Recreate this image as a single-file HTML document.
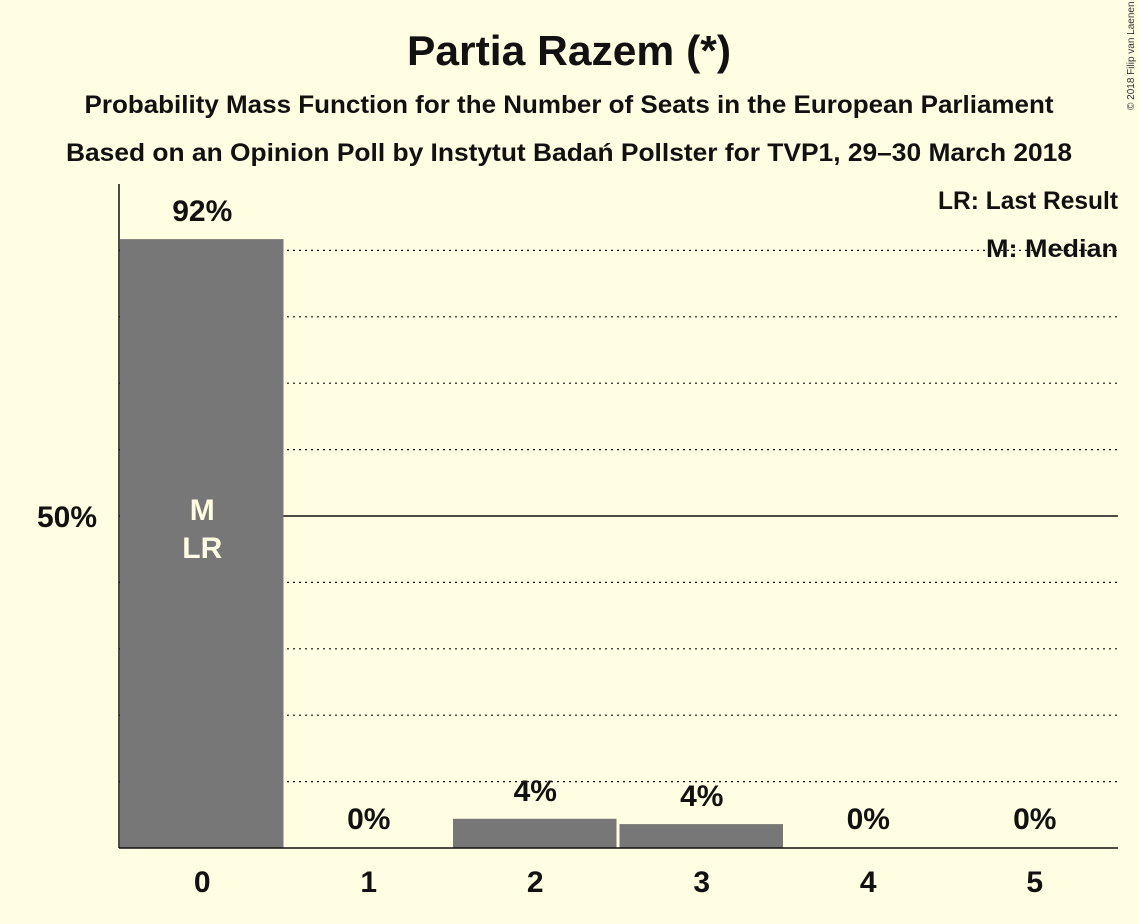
<!DOCTYPE html>
<html><head><meta charset="utf-8"><style>
body{margin:0;background:#FFFDE2;}
svg{display:block;font-family:"Liberation Sans",sans-serif;}
</style></head><body>
<svg id="chart" width="1139" height="924">
<rect width="1139" height="924" fill="#FFFDE2"/>
<text x="569" y="65" text-anchor="middle" font-size="42" font-weight="bold" fill="#111" textLength="324" lengthAdjust="spacingAndGlyphs">Partia Razem (*)</text>
<text x="569" y="113" text-anchor="middle" font-size="25" font-weight="bold" fill="#111" textLength="969" lengthAdjust="spacingAndGlyphs">Probability Mass Function for the Number of Seats in the European Parliament</text>
<text x="569" y="161" text-anchor="middle" font-size="25" font-weight="bold" fill="#111" textLength="1006" lengthAdjust="spacingAndGlyphs">Based on an Opinion Poll by Instytut Badań Pollster for TVP1, 29–30 March 2018</text>
<text transform="translate(1134,110) rotate(-90)" font-size="10" fill="#333">© 2018 Filip van Laenen</text>
<g id="grid"></g>
<g id="bars"></g>
<line x1="119" y1="184" x2="119" y2="848" stroke="#111" stroke-width="1.5"/>
<line x1="119" y1="848" x2="1118" y2="848" stroke="#111" stroke-width="1.5"/>
<text x="97" y="527" text-anchor="end" font-size="30" font-weight="bold" fill="#111">50%</text>
<text x="1118" y="209" text-anchor="end" font-size="25" font-weight="bold" fill="#111" textLength="180" lengthAdjust="spacingAndGlyphs">LR: Last Result</text>
<text x="1118" y="257" text-anchor="end" font-size="25" font-weight="bold" fill="#111" textLength="132" lengthAdjust="spacingAndGlyphs">M: Median</text>
</svg>
<script>
const categories=[0,1,2,3,4,5];
const values=[91.7,0,4.4,3.6,0,0];
const labels=["92%","0%","4%","4%","0%","0%"];
const medianIndex=0;
const lastResultIndex=0;
const ns="http://www.w3.org/2000/svg";
const x0=119,slot=166.5,yb=848,y50=516;
const yS=v=>yb-(yb-y50)*v/50;
const xS=i=>x0+slot*i;
const grid=document.getElementById('grid'),bars=document.getElementById('bars');
for(let p=10;p<=90;p+=10){
 const l=document.createElementNS(ns,'line');
 l.setAttribute('x1',x0);l.setAttribute('x2',1118);
 l.setAttribute('y1',yS(p));l.setAttribute('y2',yS(p));
 l.setAttribute('stroke','#111');
 if(p===50){l.setAttribute('stroke-width','1.5');}else{l.setAttribute('stroke-width','1.2');l.setAttribute('stroke-dasharray','2,4');}
 
 
 grid.appendChild(l);
}
categories.forEach((c,i)=>{
 const v=values[i];
 if(v>0){
  const r=document.createElementNS(ns,'rect');
  r.setAttribute('x',xS(i)+1);r.setAttribute('width',slot-3);
  r.setAttribute('y',yS(v));r.setAttribute('height',yb-yS(v));
  r.setAttribute('fill','#777');
  
  
  bars.appendChild(r);
 }
 const cx=xS(i)+slot/2;
 const t=document.createElementNS(ns,'text');
 t.setAttribute('x',cx);t.setAttribute('y',v>10?yS(v)-18:Math.min(yS(v)-18,829));
 t.setAttribute('text-anchor','middle');t.setAttribute('font-size','30');t.setAttribute('font-weight','bold');t.setAttribute('fill','#111');
 t.textContent=labels[i];
 
 
 bars.appendChild(t);
 const xt=document.createElementNS(ns,'text');
 xt.setAttribute('x',cx);xt.setAttribute('y',892);
 xt.setAttribute('text-anchor','middle');xt.setAttribute('font-size','30');xt.setAttribute('font-weight','bold');xt.setAttribute('fill','#111');
 xt.textContent=c;
 
 
 bars.appendChild(xt);
});
function inBar(txt,y,i,name){
 const t=document.createElementNS(ns,'text');
 t.setAttribute('x',xS(i)+slot/2);t.setAttribute('y',y);
 t.setAttribute('text-anchor','middle');t.setAttribute('font-size','30');t.setAttribute('font-weight','bold');t.setAttribute('fill','#FFFDE2');
 t.textContent=txt;
 
 
 bars.appendChild(t);
}
inBar('M',520,medianIndex,'median-marker');
inBar('LR',558,lastResultIndex,'last-result-marker');
</script>
</body></html>
